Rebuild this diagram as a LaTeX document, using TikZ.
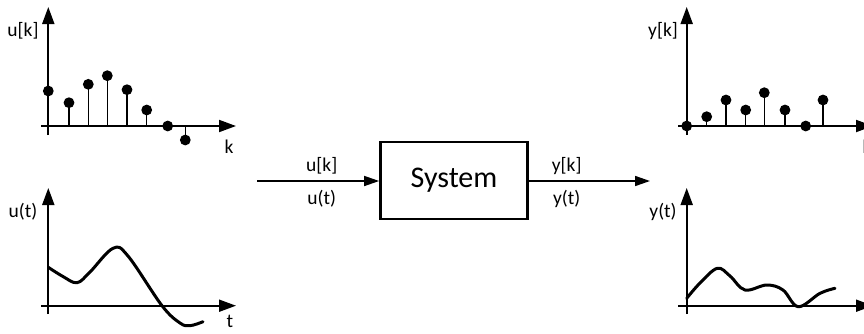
\documentclass[tikz,border=0pt]{standalone}
\usepackage{fontspec}
\setmainfont{Carlito}
\usetikzlibrary{arrows.meta}
\tikzset{
  axis/.style={line width=1.9pt,-{Triangle[length=17pt,width=12pt]}},
  stem/.style={line width=1.4pt},
  dot/.style={circle,fill=black,inner sep=0pt,minimum size=10.8pt},
  curve/.style={line width=3pt,line cap=round,line join=round},
  flow/.style={line width=1.6pt,-{Triangle[length=15pt,width=10pt]}},
  block/.style={draw,line width=2.7pt,minimum width=147pt,minimum height=77pt,inner sep=0pt,
    font=\fontsize{30}{32}\selectfont},
  lbl/.style={inner sep=0pt,font=\fontsize{19.5}{21}\selectfont},
}
\begin{document}
\begin{tikzpicture}[x=1pt,y=-1pt]
\useasboundingbox (0,0) rectangle (864,333);
\clip (0,0) rectangle (864,333);

% ---- discrete input u[k] ----
\draw[axis] (48.3,135) -- (48.3,7);
\draw[axis] (41,126) -- (236,126);
\node[lbl] (lukd) at (23,31) {u[k]};
\node[lbl] (lk1) at (229,147) {k};
\foreach \i/\x/\y in {1/48.3/91, 2/69/102.7, 3/88.3/84.3, 4/107.3/75.7,
                      5/127/89.7, 6/146.7/110, 7/167.7/126, 8/185.3/140}{
  \node[dot] (u\i) at (\x,\y) {};
  \draw[stem] (u\i.center) -- (\x,126);
}

% ---- continuous input u(t) ----
\draw[axis] (48.3,314) -- (48.3,188);
\draw[axis] (41,305.7) -- (236,305.7);
\node[lbl] (lutc) at (23,212) {u(t)};
\node[lbl] (lt1) at (230,321.5) {t};
\draw[curve] plot[smooth,tension=0.6] coordinates {
  (48.3,267.3) (63,276.5) (77,282.7) (90,272) (113,248.3) (128,256)
  (162,305.7) (180,323) (190,325.7) (203,321.7)};

% ---- system block ----
\node[block] (sys) at (454,180.5) {System};
\coordinate (src) at (257,181);
\coordinate (dst) at (650,181);
\draw[flow] (src) -- (sys.west |- src);
\draw[flow] (sys.east |- dst) -- (dst);
\node[lbl] (inD) at (321.7,166) {u[k]};
\node[lbl] (inC) at (321.7,199) {u(t)};
\node[lbl] (outD) at (566.7,166) {y[k]};
\node[lbl] (outC) at (566.7,199) {y(t)};

% ---- discrete output y[k] ----
\draw[axis] (686.7,135) -- (686.7,7);
\draw[axis] (678,126) -- (873,126);
\node[lbl] (lykd) at (663,31) {y[k]};
\node[lbl] (lk2) at (867,147) {k};
\foreach \i/\x/\y in {1/686.7/126, 2/706.7/116.7, 3/726/100, 4/745.7/110,
                      5/764.3/92.7, 6/785/110, 7/805.7/126, 8/823/100}{
  \node[dot] (y\i) at (\x,\y) {};
  \draw[stem] (y\i.center) -- (\x,126);
}

% ---- continuous output y(t) ----
\draw[axis] (686.7,314) -- (686.7,188);
\draw[axis] (678,305.7) -- (873,305.7);
\node[lbl] (lytc) at (663,212) {y(t)};
\node[lbl] (lt2) at (868,321.5) {t};
\draw[curve] plot[smooth,tension=0.6] coordinates {
  (686.7,298.3) (700,283) (717.3,268.3) (730,276) (745,290) (766.7,285)
  (783,290) (798.3,306.7) (820,293.3) (835,288.3)};
\end{tikzpicture}
\end{document}
